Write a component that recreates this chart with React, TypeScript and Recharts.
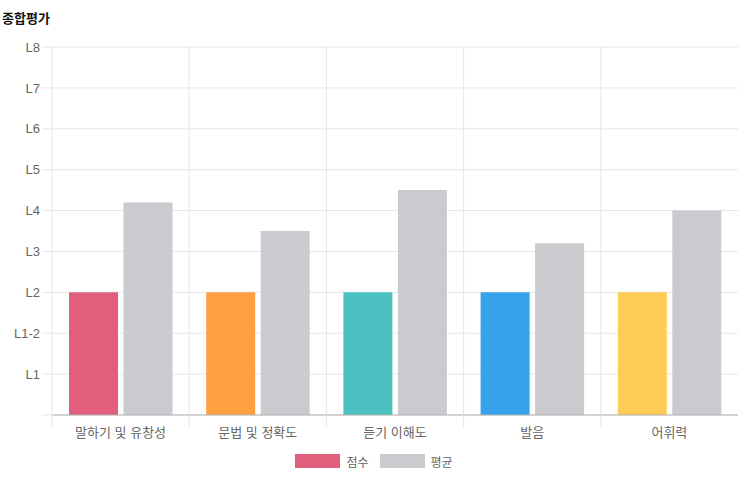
import { BarChart, Bar, XAxis, YAxis, CartesianGrid, Legend, Cell } from "recharts";

const categories = ["말하기 및 유창성", "문법 및 정확도", "듣기 이해도", "발음", "어휘력"];
const scores = [3, 3, 3, 3, 3];
const averages = [5.2, 4.5, 5.5, 4.2, 5.0];
const levelTicks = [0, 1, 2, 3, 4, 5, 6, 7, 8, 9];
const levelLabels = ["", "L1", "L1-2", "L2", "L3", "L4", "L5", "L6", "L7", "L8"];
const scoreColors = ["#E15F7D", "#FF9F40", "#4BC0C0", "#36A2EB", "#FFCD56"];
const avgColor = "#C9CBCF";

const data = categories.map((name, i) => ({ name, score: scores[i], avg: averages[i] }));

const W = 754;
const H = 495;
const MARGIN = { top: 47, right: 16, left: 0, bottom: 22 };
const Y_W = 52;
const PLOT_W = W - MARGIN.left - MARGIN.right - Y_W;
const BAND = PLOT_W / categories.length;
const FONT = "'Liberation Sans', 'Noto Sans CJK KR', sans-serif";

function CategoryTick(props: any) {
  const { x, y, payload } = props;
  const left = x - BAND / 2;
  return (
    <g>
      <line x1={left} x2={left} y1={y} y2={y + 12} stroke="#e6e6e6" />
      <text x={x} y={y + 17} dy="0.36em" textAnchor="middle" fill="#666" fontSize={13} fontFamily={FONT}>
        {payload.value}
      </text>
    </g>
  );
}

function LegendContent(props: any) {
  const items = props.payload || [];
  return (
    <div style={{ height: 24, display: "flex", justifyContent: "center", alignItems: "center", paddingRight: 6, fontFamily: FONT, fontSize: 12, color: "#666" }}>
      {items.map((it: any) => (
        <div key={it.value} style={{ display: "flex", alignItems: "center", margin: "0 5.5px" }}>
          <span style={{ display: "inline-block", width: 43, height: 12, background: it.color, border: "1px solid " + it.color, marginRight: 6 }} />
          <span>{it.value}</span>
        </div>
      ))}
    </div>
  );
}

export default function App() {
  return (
    <div style={{ position: "absolute", left: 0, top: 0, width: W, height: H, background: "#fff" }}>
      <div style={{ position: "absolute", left: 2, top: 8, fontFamily: "'Noto Sans CJK KR', sans-serif", fontWeight: 700, fontSize: 13, color: "#111", zIndex: 2 }}>
        종합평가
      </div>
      <BarChart width={W} height={H} data={data} margin={MARGIN} barSize={49} barGap={5.5}>
        <CartesianGrid
          stroke="#e6e6e6"
          verticalCoordinatesGenerator={({ offset }: any) =>
            categories.map((_, i) => offset.left + (i * offset.width) / categories.length)
          }
        />
        <XAxis
          dataKey="name"
          height={34}
          tickSize={0}
          tickMargin={0}
          tickLine={false}
          stroke="#b3b3b3"
          tick={<CategoryTick />}
          interval={0}
        />
        <YAxis
          type="number"
          domain={[0, 9]}
          ticks={levelTicks}
          width={Y_W}
          axisLine={false}
          tickSize={10}
          tickMargin={2}
          tickLine={{ stroke: "#e6e6e6" }}
          tickFormatter={(v: number) => levelLabels[v] ?? ""}
          tick={{ fill: "#666", fontSize: 13, fontFamily: FONT }}
        />
        <Legend verticalAlign="bottom" wrapperStyle={{ left: 0, width: W }} content={<LegendContent />} />
        <Bar dataKey="score" name="점수" fill={scoreColors[0]} isAnimationActive={false}>
          {data.map((d, i) => (
            <Cell key={d.name} fill={scoreColors[i]} />
          ))}
        </Bar>
        <Bar dataKey="avg" name="평균" fill={avgColor} isAnimationActive={false} />
      </BarChart>
    </div>
  );
}
